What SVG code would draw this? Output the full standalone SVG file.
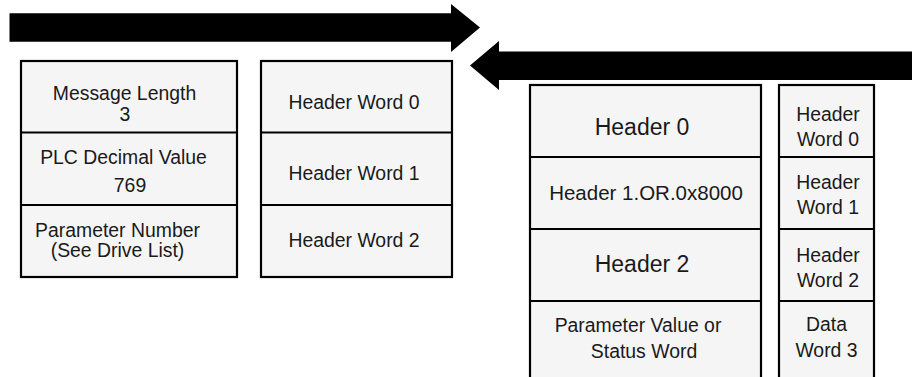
<svg xmlns="http://www.w3.org/2000/svg" width="912" height="377" viewBox="0 0 912 377">
<style>
.box{fill:#f5f5f5;stroke:#000;stroke-width:2.2}
.div{stroke:#000;stroke-width:2.2;fill:none}
text{font-family:"Liberation Sans",Arial,sans-serif;font-size:19.4px;fill:#1a1a1a;text-anchor:middle}
.big{font-size:23px}
.mid{font-size:20.5px}
.arrow{fill:#000}
</style>
<g id="connectors">
<polygon class="arrow" points="9.5,13.3 451,13.3 451,4 480,27.5 451,52 451,41.7 9.5,41.7"/>
<polygon class="arrow" points="912,51.5 499,51.5 499,41 470,65.5 499,90 499,80 912,80"/>
</g>
<g id="request-data">
<rect class="box" x="21" y="61" width="216" height="216"/>
<line class="div" x1="21" y1="132.5" x2="237" y2="132.5"/>
<line class="div" x1="21" y1="205" x2="237" y2="205"/>
<text x="124.5" y="99.5">Message Length</text>
<text x="125" y="121">3</text>
<text x="123.5" y="164">PLC Decimal Value</text>
<text x="130" y="192">769</text>
<text x="117.5" y="237">Parameter Number</text>
<text x="117.5" y="257">(See Drive List)</text>
</g>
<g id="request-words">
<rect class="box" x="261" y="61" width="191" height="216"/>
<line class="div" x1="261" y1="132.5" x2="452" y2="132.5"/>
<line class="div" x1="261" y1="205" x2="452" y2="205"/>
<text x="354" y="109">Header Word 0</text>
<text x="354" y="180">Header Word 1</text>
<text x="354" y="247">Header Word 2</text>
</g>
<g id="response-data">
<rect class="box" x="530" y="85" width="231" height="320"/>
<line class="div" x1="530" y1="157" x2="761" y2="157"/>
<line class="div" x1="530" y1="229" x2="761" y2="229"/>
<line class="div" x1="530" y1="301" x2="761" y2="301"/>
<text class="big" x="642" y="135">Header 0</text>
<text class="mid" x="646" y="200">Header 1.OR.0x8000</text>
<text class="big" x="642" y="272">Header 2</text>
<text x="638" y="332">Parameter Value or</text>
<text x="644" y="358">Status Word</text>
</g>
<g id="response-words">
<rect class="box" x="779" y="85" width="95" height="320"/>
<line class="div" x1="779" y1="157" x2="874" y2="157"/>
<line class="div" x1="779" y1="229" x2="874" y2="229"/>
<line class="div" x1="779" y1="301" x2="874" y2="301"/>
<text x="828" y="121">Header</text>
<text x="828" y="146">Word 0</text>
<text x="828" y="189">Header</text>
<text x="828" y="214">Word 1</text>
<text x="828" y="262">Header</text>
<text x="828" y="287">Word 2</text>
<text x="826.5" y="331">Data</text>
<text x="826.5" y="357">Word 3</text>
</g>
</svg>
